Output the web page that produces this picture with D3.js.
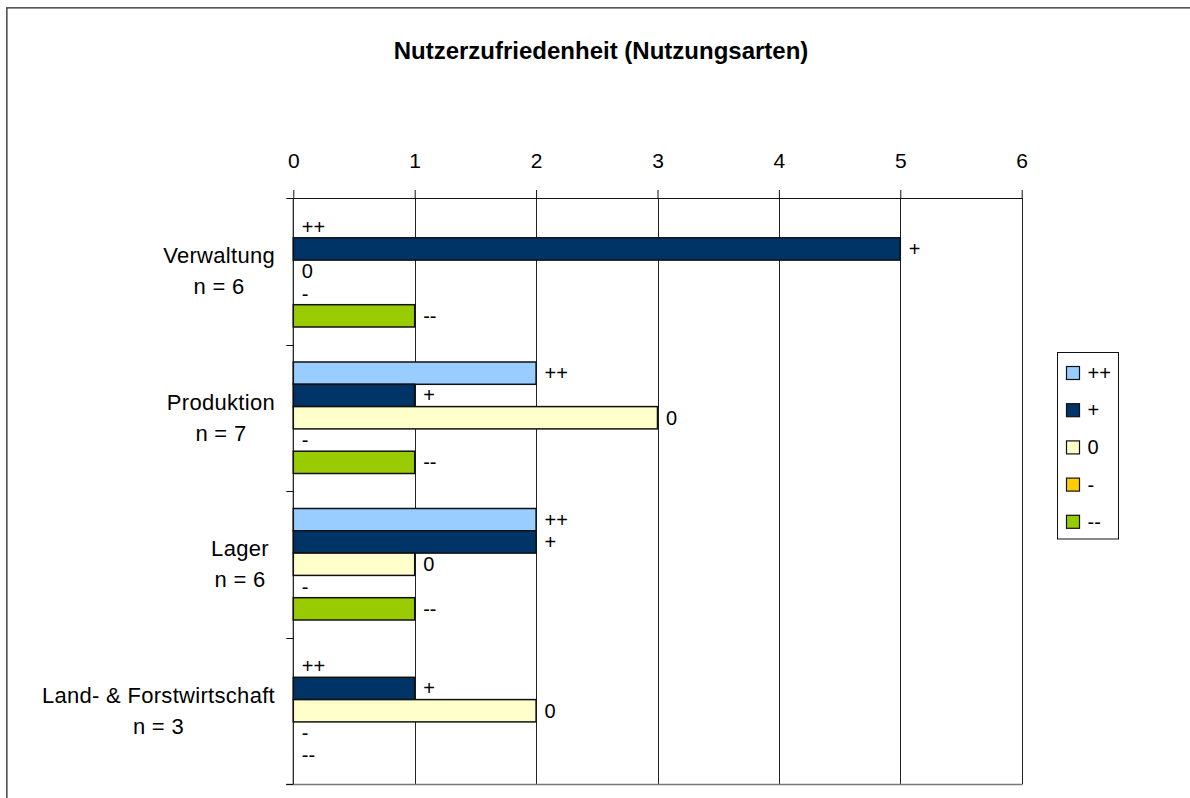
<!DOCTYPE html>
<html>
<head>
<meta charset="utf-8">
<script src="https://cdn.jsdelivr.net/npm/d3@7"></script>
<style>
  html, body { margin: 0; padding: 0; background: #fff; }
  svg { display: block; font-family: "Liberation Sans", Arial, sans-serif; }
</style>
</head>
<body>
<svg id="chart" width="1190" height="798"></svg>
<script>
// Usage categories with number of responses
const categories = ["Verwaltung", "Produktion", "Lager", "Land- & Forstwirtschaft"];
const counts = [6, 7, 6, 3];

// Satisfaction ratings (series) and their colours
const seriesNames = ["++", "+", "0", "-", "--"];
const seriesColors = ["#99ccff", "#003366", "#ffffcc", "#ffcc00", "#99cc00"];

// Number of answers per rating, one value per category
const valuesVeryGood = [0, 2, 2, 0];   // ++
const valuesGood     = [5, 1, 2, 1];   // +
const valuesNeutral  = [0, 3, 1, 2];   // 0
const valuesBad      = [0, 0, 0, 0];   // -
const valuesVeryBad  = [1, 1, 1, 0];   // --
const seriesValues = [valuesVeryGood, valuesGood, valuesNeutral, valuesBad, valuesVeryBad];

const tickValues = [0, 1, 2, 3, 4, 5, 6];
const titleText = "Nutzerzufriedenheit (Nutzungsarten)";

const svg = d3.select("#chart");

// outer frame
svg.append("rect")
  .attr("x", 6.5).attr("y", 7.5)
  .attr("width", 1300).attr("height", 900)
  .attr("fill", "none").attr("stroke", "#888").attr("stroke-width", 1);
svg.append("rect")
  .attr("x", 7).attr("y", 8)
  .attr("width", 1300).attr("height", 900)
  .attr("fill", "none").attr("stroke", "#222").attr("stroke-width", 1);

// title
svg.append("text")
  .attr("x", 601).attr("y", 59)
  .attr("text-anchor", "middle")
  .attr("font-weight", "bold")
  .attr("font-size", 24)
  .attr("fill", "#000")
  .text(titleText);

const plotLeft = 293.3, plotRight = 1021.7, plotTop = 198, plotBottom = 784;

const x = d3.scaleLinear().domain([0, 6]).range([plotLeft, plotRight]);
const y0 = d3.scaleBand().domain(categories).range([plotTop, plotBottom]).padding(0);
const y1 = d3.scaleBand().domain(seriesNames).range([17.5, y0.bandwidth() - 17.5]).padding(0);

// vertical gridlines
svg.append("g")
  .selectAll("line")
  .data(tickValues.filter(d => d > 0))
  .join("line")
  .attr("x1", d => Math.round(x(d)) + 0.5).attr("x2", d => Math.round(x(d)) + 0.5)
  .attr("y1", plotTop).attr("y2", plotBottom)
  .attr("stroke", "#222").attr("stroke-width", 1);

// bottom frame line
svg.append("line")
  .attr("x1", 286).attr("x2", plotRight + 1)
  .attr("y1", plotBottom + 0.5).attr("y2", plotBottom + 0.5)
  .attr("stroke", "#777").attr("stroke-width", 1.5);

// bars
const groups = svg.append("g")
  .selectAll("g")
  .data(categories)
  .join("g")
  .attr("transform", c => `translate(0,${y0(c)})`);

groups.each(function(c, ci) {
  const g = d3.select(this);
  seriesNames.forEach((s, si) => {
    const v = seriesValues[si][ci];
    if (v > 0) {
      g.append("rect")
        .attr("x", x(0))
        .attr("y", y1(s))
        .attr("width", x(v) - x(0))
        .attr("height", y1.bandwidth())
        .attr("fill", seriesColors[si])
        .attr("stroke", "#111")
        .attr("stroke-width", 1.5);
    }
    g.append("text")
      .attr("x", x(v) + 8.5)
      .attr("y", y1(s) + y1.bandwidth() / 2)
      .attr("dy", "0.35em")
      .attr("font-size", 20)
      .attr("fill", "#000")
      .text(s);
  });
});

// top value axis
const xAxis = d3.axisTop(x)
  .tickValues(tickValues)
  .tickFormat(d3.format("d"))
  .tickSizeInner(8)
  .tickSizeOuter(0)
  .tickPadding(22);
const xg = svg.append("g")
  .attr("transform", `translate(0,${plotTop})`)
  .call(xAxis);
xg.select(".domain").attr("stroke", "#111");
xg.selectAll(".tick line").attr("stroke", "#111");
xg.selectAll(".tick text")
  .attr("font-size", 21)
  .attr("font-family", "Liberation Sans, Arial, sans-serif")
  .attr("fill", "#000");

// left category axis: line with ticks at band boundaries
svg.append("line")
  .attr("x1", plotLeft).attr("x2", plotLeft)
  .attr("y1", plotTop).attr("y2", plotBottom)
  .attr("stroke", "#111").attr("stroke-width", 1.2);
const boundaries = categories.map(c => y0(c)).concat([plotBottom]);
svg.append("g")
  .selectAll("line")
  .data(boundaries)
  .join("line")
  .attr("x1", plotLeft - 7).attr("x2", plotLeft)
  .attr("y1", d => Math.round(d) + 0.5).attr("y2", d => Math.round(d) + 0.5)
  .attr("stroke", "#111").attr("stroke-width", 1);

// category labels: centred two-line blocks next to the axis
// (short labels keep a minimum block width)
const labelRight = 275;
const minLabelWidth = 70;
const labelG = svg.append("g");
categories.forEach((c, ci) => {
  const cy = y0(c) + y0.bandwidth() / 2;
  const lines = [c, "n = " + counts[ci]];
  const t = labelG.append("text")
    .attr("font-size", 22)
    .attr("letter-spacing", 0.3)
    .attr("fill", "#000")
    .attr("text-anchor", "middle");
  lines.forEach((l, li) => {
    t.append("tspan")
      .attr("x", 0)
      .attr("y", cy + (li === 0 ? -15.5 : 15.5))
      .attr("dy", "0.35em")
      .text(l);
  });
  const w = Math.max(t.node().getBBox().width, minLabelWidth);
  t.selectAll("tspan").attr("x", labelRight - w / 2);
});

// legend
const legend = svg.append("g");
legend.append("rect")
  .attr("x", 1057.5).attr("y", 352.5)
  .attr("width", 61).attr("height", 186.5)
  .attr("fill", "#fff").attr("stroke", "#111").attr("stroke-width", 1);
seriesNames.forEach((s, si) => {
  const cy = 373 + si * 37.2;
  legend.append("rect")
    .attr("x", 1066.5).attr("y", cy - 6.5)
    .attr("width", 13).attr("height", 13)
    .attr("fill", seriesColors[si])
    .attr("stroke", "#111").attr("stroke-width", 1.2);
  legend.append("text")
    .attr("x", 1087.5).attr("y", cy)
    .attr("dy", "0.35em")
    .attr("font-size", 20)
    .attr("fill", "#000")
    .text(s);
});
</script>
</body>
</html>
